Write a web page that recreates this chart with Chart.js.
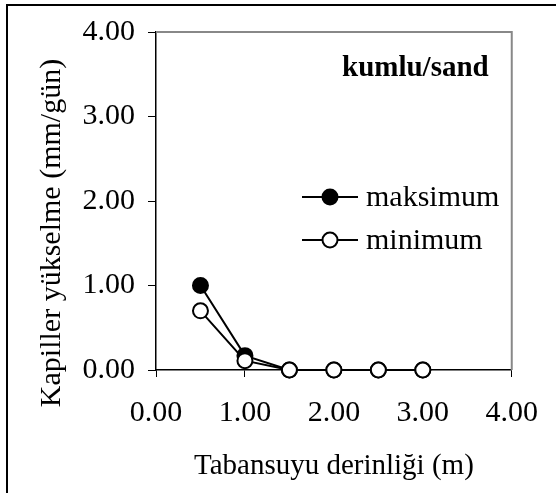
<!DOCTYPE html>
<html>
<head>
<meta charset="utf-8">
<script src="https://cdn.jsdelivr.net/npm/chart.js@4.4.0/dist/chart.umd.min.js"></script>
<style>
  body { margin: 0; background: #fff; }
  canvas { display: block; }
</style>
</head>
<body>
<canvas id="capChart" width="556" height="493"></canvas>
<script>
const depths = [0.5, 1.0, 1.5, 2.0, 2.5, 3.0];
const maxValues = [1.00, 0.17, 0.00, 0.00, 0.00, 0.00];
const minValues = [0.70, 0.11, 0.00, 0.00, 0.00, 0.00];
const seriesNames = ["maksimum", "minimum"];
const panelTitle = "kumlu/sand";
const xTitle = "Tabansuyu derinliği (m)";
const yTitle = "Kapiller yükselme (mm/gün)";

const serif = "'Liberation Serif', 'Times New Roman', serif";

function toPoints(xs, ys) {
    return xs.map((x, i) => ({ x: x, y: ys[i] }));
}

// frame, grey top/right border, y title, panel title and legend
const decorations = {
    id: "decorations",
    beforeDraw(chart) {
        const ctx = chart.ctx;
        ctx.save();
        ctx.fillStyle = "#fff";
        ctx.fillRect(0, 0, chart.width, chart.height);
        ctx.strokeStyle = "#000";
        ctx.lineWidth = 2;
        ctx.beginPath();
        ctx.moveTo(7, chart.height);
        ctx.lineTo(7, 5);
        ctx.lineTo(chart.width, 5);
        ctx.stroke();
        ctx.restore();
    },
    afterDatasetsDraw(chart) {
        const ctx = chart.ctx;
        const a = chart.chartArea;
        ctx.save();
        ctx.strokeStyle = "#888";
        ctx.lineWidth = 2;
        ctx.beginPath();
        ctx.moveTo(a.left, a.top);
        ctx.lineTo(a.right, a.top);
        ctx.lineTo(a.right, a.bottom);
        ctx.stroke();

        // y axis title
        ctx.fillStyle = "#000";
        ctx.font = "30px " + serif;
        ctx.textAlign = "center";
        ctx.textBaseline = "alphabetic";
        ctx.translate(60, 233);
        ctx.rotate(-Math.PI / 2);
        ctx.fillText(yTitle, 0, 0);
        ctx.setTransform(1, 0, 0, 1, 0, 0);

        // panel title
        ctx.font = "bold 29px " + serif;
        ctx.textAlign = "left";
        ctx.fillText(panelTitle, 342, 76);

        // legend
        const rows = [0, 1];
        const ys = [197, 240];
        ctx.font = "30px " + serif;
        ctx.textBaseline = "middle";
        rows.forEach((di, i) => {
            const ds = chart.data.datasets[di];
            const y = ys[i];
            ctx.strokeStyle = "#000";
            ctx.lineWidth = 2;
            ctx.beginPath();
            ctx.moveTo(302, y);
            ctx.lineTo(358, y);
            ctx.stroke();
            ctx.beginPath();
            ctx.arc(330, y, 7.5, 0, Math.PI * 2);
            ctx.fillStyle = ds.pointBackgroundColor;
            ctx.fill();
            ctx.stroke();
            ctx.fillStyle = "#000";
            ctx.fillText(ds.label, 366, y + 1);
        });
        ctx.restore();
    }
};

const tickFont = { family: serif, size: 30 };

new Chart(document.getElementById("capChart"), {
    type: "scatter",
    data: {
        datasets: [
            {
                label: seriesNames[0],
                data: toPoints(depths, maxValues),
                showLine: true,
                borderColor: "#000",
                borderWidth: 2,
                pointBackgroundColor: "#000",
                pointBorderColor: "#000",
                pointBorderWidth: 2,
                pointRadius: 7.5,
                clip: false,
                order: 1
            },
            {
                label: seriesNames[1],
                data: toPoints(depths, minValues),
                showLine: true,
                borderColor: "#000",
                borderWidth: 2,
                pointBackgroundColor: "#fff",
                pointBorderColor: "#000",
                pointBorderWidth: 2,
                pointRadius: 7.5,
                clip: false,
                order: 0
            }
        ]
    },
    options: {
        responsive: false,
        animation: false,
        layout: { padding: { top: 32, right: 34, left: 0, bottom: 0 } },
        plugins: {
            legend: { display: false },
            tooltip: { enabled: false }
        },
        scales: {
            x: {
                type: "linear",
                min: 0,
                max: 4,
                ticks: {
                    stepSize: 1,
                    color: "#000",
                    font: tickFont,
                    padding: 18,
                    maxRotation: 0,
                    callback: v => v.toFixed(2)
                },
                grid: { drawOnChartArea: false, drawTicks: true, tickLength: 7, color: "#000" },
                border: { color: "#000", width: 1.5 },
                title: {
                    display: true,
                    text: xTitle,
                    color: "#000",
                    font: { family: serif, size: 29 },
                    padding: { top: 0, bottom: 9 }
                },
                afterFit: s => { s.height = 123; }
            },
            y: {
                type: "linear",
                min: 0,
                max: 4,
                ticks: {
                    stepSize: 1,
                    color: "#000",
                    font: tickFont,
                    padding: 13,
                    callback: v => v.toFixed(2)
                },
                grid: { drawOnChartArea: false, drawTicks: true, tickLength: 8, color: "#000" },
                border: { color: "#000", width: 1.5 },
                afterFit: s => { s.width = 156; }
            }
        }
    },
    plugins: [decorations]
});
</script>
</body>
</html>
